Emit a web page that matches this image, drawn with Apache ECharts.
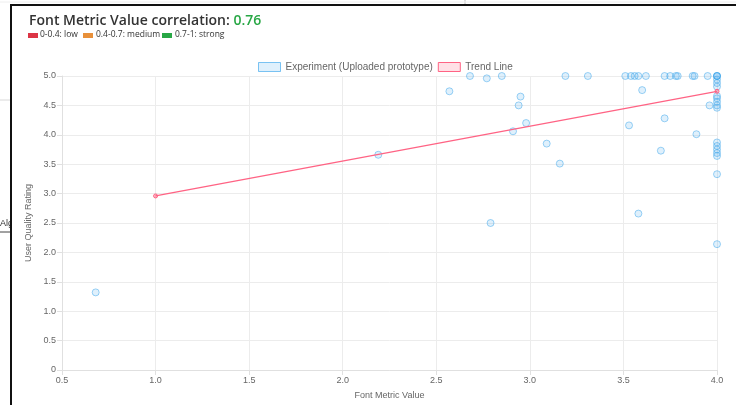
<!DOCTYPE html>
<html>
<head>
<meta charset="utf-8">
<script src="https://cdn.jsdelivr.net/npm/echarts@6/dist/echarts.min.js"></script>
<style>html,body{margin:0;padding:0;background:#fff;}#c{width:736px;height:405px;}</style>
</head>
<body>
<div id="c"></div>
<script>
var titleText = "Font Metric Value correlation: ";
var correlation = "0.76";
var bandLabels = ["0-0.4: low", "0.4-0.7: medium", "0.7-1: strong"];
var seriesNames = ["Experiment (Uploaded prototype)", "Trend Line"];
var xAxisName = "Font Metric Value";
var yAxisName = "User Quality Rating";

var experimentPoints = [
  [0.68, 1.32], [2.19, 3.66], [2.57, 4.74], [2.68, 5.0], [2.77, 4.96], [2.85, 5.0],
  [2.79, 2.5], [2.91, 4.06], [2.94, 4.5], [2.95, 4.65], [2.98, 4.2], [3.09, 3.85],
  [3.16, 3.51], [3.19, 5.0], [3.31, 5.0], [3.51, 5.0], [3.54, 5.0], [3.56, 5.0],
  [3.58, 5.0], [3.62, 5.0], [3.72, 5.0], [3.75, 5.0], [3.78, 5.0], [3.79, 5.0],
  [3.87, 5.0], [3.88, 5.0], [3.95, 5.0], [4.0, 5.0], [4.0, 5.0], [4.0, 5.0],
  [3.53, 4.16], [3.58, 2.66], [3.60, 4.76], [3.70, 3.73], [3.72, 4.28], [3.89, 4.01],
  [3.96, 4.5], [4.0, 4.94], [4.0, 4.88], [4.0, 4.82], [4.0, 4.66], [4.0, 4.62],
  [4.0, 4.56], [4.0, 4.5], [4.0, 4.46], [4.0, 3.87], [4.0, 3.81], [4.0, 3.75],
  [4.0, 3.69], [4.0, 3.64], [4.0, 3.33], [4.0, 2.14]
];
var trendPoints = [[1.0, 2.96], [4.0, 4.74]];

var chart = echarts.init(document.getElementById('c'), null, {renderer: 'canvas'});
var font = '"Liberation Sans", Arial, Helvetica, sans-serif';
var smallFont = '8.5px "Open Sans", sans-serif';
function fmt(v) { return v === 0 ? '0' : v.toFixed(1); }

var option = {
  backgroundColor: '#fff',
  animation: false,
  textStyle: {fontFamily: font},
  graphic: [
    {type: 'line', shape: {x1: 0, y1: 100, x2: 12, y2: 100}, style: {stroke: '#d8d8d8', lineWidth: 1}, z: 0},
    {type: 'line', shape: {x1: 0, y1: 232, x2: 12, y2: 232}, style: {stroke: '#444', lineWidth: 1}, z: 0},
    {type: 'text', left: 0, top: 219, style: {text: 'Alg', fill: '#333', font: '9px ' + font}, z: 0},
    {type: 'line', shape: {x1: 465, y1: 0, x2: 465, y2: 5}, style: {stroke: '#bbb', lineWidth: 1}, z: 0},
    {type: 'line', shape: {x1: 0, y1: 2, x2: 736, y2: 2}, style: {stroke: '#eee', lineWidth: 1}, z: 0},
    {type: 'rect', shape: {x: 11, y: 5, width: 740, height: 420}, style: {fill: '#fff', stroke: '#111', lineWidth: 2}, z: 0, silent: true},
    {type: 'rect', shape: {x: 28, y: 33, width: 10, height: 5}, style: {fill: '#dc3545'}, z: 5},
    {type: 'text', left: 40, top: 30, style: {text: bandLabels[0], fill: '#333', font: smallFont}, z: 5},
    {type: 'rect', shape: {x: 83, y: 33, width: 10, height: 5}, style: {fill: '#e8903a'}, z: 5},
    {type: 'text', left: 96, top: 30, style: {text: bandLabels[1], fill: '#333', font: smallFont}, z: 5},
    {type: 'rect', shape: {x: 162, y: 33, width: 10, height: 5}, style: {fill: '#28a745'}, z: 5},
    {type: 'text', left: 175, top: 30, style: {text: bandLabels[2], fill: '#333', font: smallFont}, z: 5}
  ],
  title: {
    text: '{a|' + titleText + '}{b|' + correlation + '}',
    left: 24, top: 9,
    textStyle: {
      rich: {
        a: {fontSize: 14, fontWeight: 600, color: '#333', fontFamily: '"Open Sans", sans-serif'},
        b: {fontSize: 14, fontWeight: 600, color: '#28a745', fontFamily: '"Open Sans", sans-serif'}
      }
    }
  },
  legend: {
    top: 57, left: 253,
    itemWidth: 22, itemHeight: 9, itemGap: 5,
    textStyle: {fontSize: 10, color: '#666', fontFamily: font},
    data: [
      {name: seriesNames[0], icon: 'rect', itemStyle: {color: 'rgba(54,162,235,0.2)', borderColor: 'rgba(54,162,235,0.8)', borderWidth: 1}},
      {name: seriesNames[1], icon: 'rect', itemStyle: {color: 'rgba(255,99,132,0.2)', borderColor: 'rgb(255,99,132)', borderWidth: 1}}
    ]
  },
  grid: {left: 62, right: 19, top: 76, bottom: 33, containLabel: false},
  xAxis: {
    type: 'value', min: 0.5, max: 4.0, interval: 0.5,
    name: xAxisName, nameLocation: 'middle', nameGap: 21,
    nameTextStyle: {fontSize: 9, color: '#666'},
    axisLine: {show: true, lineStyle: {color: '#e0e0e0'}},
    axisTick: {show: true, length: 5, lineStyle: {color: '#e0e0e0'}},
    axisLabel: {fontSize: 9, color: '#666', formatter: fmt, margin: 6},
    splitLine: {show: true, lineStyle: {color: '#ececec'}}
  },
  yAxis: {
    type: 'value', min: 0, max: 5, interval: 0.5,
    name: yAxisName, nameLocation: 'middle', nameGap: 24,
    nameTextStyle: {fontSize: 9, color: '#666'},
    axisLine: {show: true, lineStyle: {color: '#e0e0e0'}},
    axisTick: {show: true, length: 5, lineStyle: {color: '#e0e0e0'}},
    axisLabel: {fontSize: 9, color: '#666', formatter: fmt, margin: 6},
    splitLine: {show: true, lineStyle: {color: '#ececec'}}
  },
  series: [
    {
      name: seriesNames[0], type: 'scatter', data: experimentPoints,
      symbol: 'circle', symbolSize: 7,
      itemStyle: {color: 'rgba(54,162,235,0.2)', borderColor: 'rgba(54,162,235,0.6)', borderWidth: 1}
    },
    {
      name: seriesNames[1], type: 'line', data: trendPoints,
      symbol: 'circle', symbolSize: 4, showSymbol: true,
      lineStyle: {color: 'rgb(255,99,132)', width: 1.3},
      itemStyle: {color: 'rgba(255,99,132,0.4)', borderColor: 'rgb(255,99,132)', borderWidth: 1}
    }
  ]
};
chart.setOption(option);
</script>
</body>
</html>
